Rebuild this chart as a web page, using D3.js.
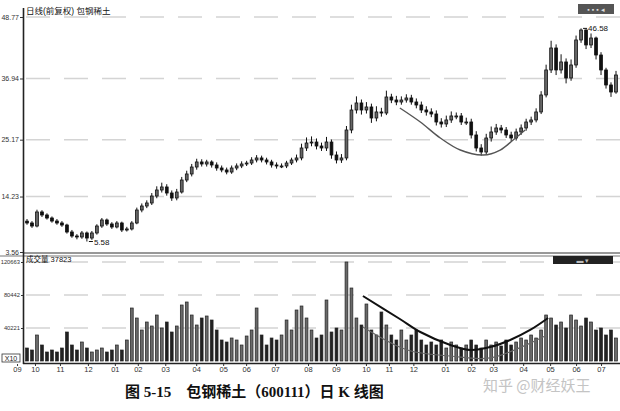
<!DOCTYPE html>
<html><head><meta charset="utf-8">
<script src="https://cdn.jsdelivr.net/npm/d3@7"></script>
<style>body{margin:0;background:#fff}svg{display:block}</style>
</head><body>
<svg id="c" width="620" height="411"></svg>
<script>
const opens=[9.50,9.14,8.56,11.26,10.68,10.10,9.52,9.14,8.75,7.41,
6.64,6.45,7.22,6.25,7.22,8.56,9.72,8.95,8.37,9.14,
7.79,7.99,9.14,11.64,12.41,12.99,14.33,15.49,16.07,14.91,
13.95,15.10,17.41,18.57,19.91,20.88,20.49,20.88,20.30,19.72,
19.34,18.95,19.72,20.11,20.49,20.68,21.26,21.65,21.26,20.88,
20.30,20.11,20.11,20.68,21.26,21.65,23.57,24.53,24.72,23.95,
23.57,24.72,22.22,21.26,21.65,27.03,30.88,32.23,30.88,31.46,
29.34,30.50,30.30,33.38,32.80,32.42,32.80,33.19,32.42,31.84,
30.88,30.50,30.11,28.57,28.19,28.96,29.73,29.73,28.57,28.57,
26.07,23.57,22.80,25.49,26.65,27.42,27.03,26.07,25.49,26.65,
27.42,28.57,28.96,30.50,33.77,38.58,42.81,38.58,40.12,37.04,
39.54,44.35,46.27,43.39,44.73,41.46,38.58,35.69,34.34];
const closes=[9.14,8.56,11.26,10.68,10.10,9.52,9.14,8.75,7.41,6.64,
6.45,7.22,6.25,7.22,8.56,9.72,8.95,8.37,9.14,7.79,
7.99,9.14,11.64,12.41,12.99,14.33,15.49,16.07,14.91,13.95,
15.10,17.41,18.57,19.91,20.88,20.49,20.88,20.30,19.72,19.34,
18.95,19.72,20.11,20.49,20.68,21.26,21.65,21.26,20.88,20.30,
20.11,20.11,20.68,21.26,21.65,23.57,24.53,24.72,23.95,23.57,
24.72,22.22,21.26,21.65,27.03,30.88,32.23,30.88,31.46,29.34,
30.50,30.30,33.38,32.80,32.42,32.80,33.19,32.42,31.84,30.88,
30.50,30.11,28.57,28.19,28.96,29.73,29.73,28.57,28.57,26.07,
23.57,22.80,25.49,26.65,27.42,27.03,26.07,25.49,26.65,27.42,
28.57,28.96,30.50,33.77,38.58,42.81,38.58,40.12,37.04,39.54,
44.35,46.27,43.39,44.73,41.46,38.58,35.69,34.34,37.61];
const highs=[9.9,9.5,11.7,11.6,11.0,10.4,9.9,9.5,9.0,7.8,
7.0,7.6,7.5,7.6,8.9,10.1,10.0,9.3,9.5,9.4,
8.4,9.5,12.1,12.9,13.5,14.9,16.2,16.9,16.6,15.4,
15.7,18.0,19.2,20.5,21.5,21.4,21.3,21.2,20.8,20.2,
19.8,20.2,20.6,21.0,21.1,21.8,22.2,22.1,21.7,21.3,
20.8,20.6,21.1,21.7,22.3,24.4,25.6,25.8,25.4,24.6,
25.7,25.2,22.9,22.4,27.8,31.9,33.5,32.9,32.4,32.1,
31.6,31.3,34.6,34.0,33.6,33.5,33.9,33.8,33.1,32.5,
31.6,31.2,30.8,29.3,29.8,30.6,30.4,30.3,29.4,29.2,
26.8,24.3,26.3,27.7,28.2,28.0,27.6,26.7,27.3,28.1,
29.2,29.6,31.2,34.5,39.6,44.2,43.5,41.6,40.8,40.6,
45.2,46.58,46.4,45.6,45.0,42.0,39.0,36.2,38.4];
const lows=[8.8,8.2,8.3,10.3,9.8,9.2,8.8,8.4,7.1,6.3,
6.0,6.1,5.58,5.9,6.9,8.2,8.6,8.0,8.1,7.4,
7.5,7.7,8.9,11.2,12.0,12.6,13.9,15.0,14.4,13.4,
13.5,14.8,17.0,18.1,19.4,20.0,20.0,19.8,19.2,18.9,
18.5,18.6,19.3,19.7,20.1,20.3,20.8,20.8,20.4,19.8,
19.6,19.7,19.7,20.3,20.8,21.2,23.0,23.9,23.3,23.0,
23.0,21.5,20.6,20.7,21.2,26.4,30.2,30.0,30.2,28.4,
28.7,29.6,29.9,32.2,31.8,31.9,32.3,31.9,31.2,30.3,
29.8,29.5,27.9,27.5,27.6,28.4,29.1,28.0,28.0,25.4,
22.9,22.1,22.3,24.8,26.1,26.4,25.5,24.9,25.0,26.1,
26.9,28.0,28.5,30.1,33.3,38.0,37.6,37.9,36.0,36.5,
39.0,43.8,42.6,42.8,40.6,37.6,35.0,33.4,34.0];
const volumes=[15845,13407,31690,19500,10970,13407,10970,15845,35345,19500,
13407,23157,15845,10970,13407,15845,10970,13407,19500,13407,
25595,64596,52408,37783,47533,42658,56065,40221,47533,35345,
42658,68253,71909,56065,43877,52408,54846,49971,37783,25595,
23157,28033,25595,19500,30470,37783,64596,31690,19500,28033,
25595,31690,49971,37783,62159,67034,52408,37783,28033,31690,
74347,35345,40221,37783,120663,88972,52408,43877,69472,37783,
31690,59721,43877,31690,25595,37783,25595,31690,37783,25595,
19500,23157,19500,25595,15845,23157,19500,15845,19500,25595,
19500,15845,25595,19500,23157,18282,25595,19500,23157,28033,
25595,31690,28033,37783,56065,52408,43877,47533,40221,56065,
49971,42658,52408,47533,37783,40221,31690,37783,28033];
const priceTicks=[48.77,36.94,25.17,14.23,3.56];
const volTicks=[120663,80442,40221];
const monthLabels=["09","10","11","12","01","02","03","04","05","06","07","08","09","10","11","12","01","02","03","04","05","06","07"];
const monthPos=[-2.0,1.6,6.6,12.2,17.6,22.2,27.7,33.9,39.3,43.9,49.7,56.3,61.9,67.9,72.5,77.4,83.8,89.0,93.4,99.4,104.8,110.0,115.0];
const priceArc=[[74.7,31.27],[78.8,28.57],[82.8,25.49],[86.8,23.18],[91.4,22.22],[94.8,23.18],[97.4,25.11],[99.8,27.03]];
const volArc=[[67.3,79235],[74.7,51200],[78.8,35350],[84.8,19500],[88.8,13400],[92.8,17000],[96.8,25600],[100.8,37800],[104.4,52400]];
const volArc2=[[67.3,41400],[76.2,13400],[84.8,6100],[92.8,3700],[104.2,31700]];
const highIdx=111, lowIdx=12;

const svg=d3.select("#c");
const N=closes.length;
const x=d3.scaleLinear().domain([0,N-1]).range([27,616]);
const yP=d3.scaleLinear().domain([3.56,48.77]).range([252,17]);
const yV=d3.scaleLinear().domain([0,120663]).range([361,262]);
const font="'Liberation Sans','Noto Sans CJK SC',sans-serif";
svg.append("rect").attr("width",620).attr("height",411).attr("fill","#fff");

// gridlines
svg.append("g").selectAll("line").data(priceTicks.slice(0,4)).join("line")
  .attr("x1",26).attr("x2",620).attr("y1",d=>yP(d)).attr("y2",d=>yP(d))
  .attr("stroke","#d4d4d4").attr("stroke-width",1.5).attr("stroke-dasharray","24,14");
svg.append("g").selectAll("line").data(volTicks).join("line")
  .attr("x1",26).attr("x2",620).attr("y1",d=>yV(d)).attr("y2",d=>yV(d))
  .attr("stroke","#d4d4d4").attr("stroke-width",1.5).attr("stroke-dasharray","24,14");

// panel borders
svg.append("line").attr("x1",23).attr("x2",620).attr("y1",253).attr("y2",253).attr("stroke","#333").attr("stroke-width",1);
svg.append("line").attr("x1",0).attr("x2",620).attr("y1",256).attr("y2",256).attr("stroke","#777").attr("stroke-width",1);
svg.append("line").attr("x1",23).attr("x2",620).attr("y1",363.5).attr("y2",363.5).attr("stroke","#222").attr("stroke-width",1.5);
svg.append("line").attr("x1",23.5).attr("x2",23.5).attr("y1",8).attr("y2",364).attr("stroke","#222").attr("stroke-width",1.6);

// axes
const ay=svg.append("g").attr("transform","translate(23,0)")
  .call(d3.axisLeft(yP).tickValues(priceTicks).tickFormat(d3.format(".2f")).tickSize(3).tickPadding(1));
const av=svg.append("g").attr("transform","translate(23,0)")
  .call(d3.axisLeft(yV).tickValues(volTicks).tickFormat(d3.format("d")).tickSize(2).tickPadding(1));
const ax=svg.append("g").attr("transform","translate(0,364)")
  .call(d3.axisBottom(x).tickValues(monthPos).tickFormat((d,i)=>monthLabels[i]).tickSize(2).tickPadding(1));
[ay,av,ax].forEach(g=>{g.select(".domain").remove();
  g.selectAll("text").attr("font-size",7.5).attr("font-family",font).attr("fill","#333");
  g.selectAll("line").attr("stroke","#333");});
ay.selectAll("text").attr("font-size",7);
av.selectAll("text").attr("font-size",5.8);

// x10 box
svg.append("rect").attr("x",2).attr("y",354).attr("width",18).attr("height",8).attr("fill","none").attr("stroke","#333").attr("stroke-width",0.8);
svg.append("text").attr("x",11).attr("y",361).attr("text-anchor","middle").attr("font-size",7).attr("font-family",font).attr("fill","#222").text("X10");

// titles
svg.append("text").attr("x",26).attr("y",14).attr("font-size",8.5).attr("font-family",font).attr("fill","#111").text("日线(前复权)   包钢稀土");
svg.append("text").attr("x",26).attr("y",262).attr("font-size",7.5).attr("font-family",font).attr("fill","#111").text("成交量  37823");
svg.append("rect").attr("x",578).attr("y",4).attr("width",36).attr("height",10).attr("fill","#555");
svg.append("text").attr("x",596).attr("y",12).attr("text-anchor","middle").attr("font-size",7).attr("font-family",font).attr("fill","#ddd").text("▪ ▪ ▪ ◂");
svg.append("rect").attr("x",553).attr("y",256).attr("width",60).attr("height",8).attr("fill","#222");
svg.append("text").attr("x",583).attr("y",263).attr("text-anchor","middle").attr("font-size",7).attr("font-family",font).attr("fill","#bbb").text("▬ ▾");

// candles
const bw=2.8;
const cg=svg.append("g");
cg.selectAll("line").data(closes).join("line")
  .attr("x1",(d,i)=>x(i)).attr("x2",(d,i)=>x(i))
  .attr("y1",(d,i)=>yP(highs[i])).attr("y2",(d,i)=>yP(lows[i]))
  .attr("stroke","#111").attr("stroke-width",1);
cg.selectAll("rect").data(closes).join("rect")
  .attr("x",(d,i)=>x(i)-bw/2).attr("width",bw)
  .attr("y",(d,i)=>yP(Math.max(d,opens[i])))
  .attr("height",(d,i)=>Math.max(1,Math.abs(yP(d)-yP(opens[i]))))
  .attr("fill",(d,i)=>d>=opens[i]?"#666":"#111").attr("stroke","#111").attr("stroke-width",0.8);

// volume bars
svg.append("g").selectAll("rect").data(volumes).join("rect")
  .attr("x",(d,i)=>x(i)-bw/2).attr("width",bw)
  .attr("y",d=>yV(d)).attr("height",d=>yV(0)-yV(d))
  .attr("fill",(d,i)=>closes[i]>=opens[i]?"#6a6a6a":"#222").attr("stroke","#222").attr("stroke-width",0.7);

// annotations
svg.append("line").attr("x1",x(highIdx)+2).attr("x2",x(highIdx)+6).attr("y1",yP(highs[highIdx])).attr("y2",yP(highs[highIdx])).attr("stroke","#111");
svg.append("text").attr("x",x(highIdx)+7).attr("y",yP(highs[highIdx])+3).attr("font-size",8).attr("font-family",font).attr("fill","#111").text(d3.format(".2f")(highs[highIdx]));
svg.append("line").attr("x1",x(lowIdx)+2).attr("x2",x(lowIdx)+6).attr("y1",yP(lows[lowIdx])).attr("y2",yP(lows[lowIdx])).attr("stroke","#111");
svg.append("text").attr("x",x(lowIdx)+7).attr("y",yP(lows[lowIdx])+3).attr("font-size",8).attr("font-family",font).attr("fill","#111").text(d3.format(".2f")(lows[lowIdx]));

const lp=d3.line().x(d=>x(d[0])).y(d=>yP(d[1])).curve(d3.curveCatmullRom);
svg.append("path").attr("d",lp(priceArc)).attr("fill","none").attr("stroke","#555").attr("stroke-width",1.4);
const lv=d3.line().x(d=>x(d[0])).y(d=>yV(d[1])).curve(d3.curveCatmullRom);
svg.append("path").attr("d",lv(volArc)).attr("fill","none").attr("stroke","#111").attr("stroke-width",2);
svg.append("path").attr("d",lv(volArc2)).attr("fill","none").attr("stroke","#666").attr("stroke-width",1.2);

// caption
svg.append("text").attr("x",125).attr("y",397).attr("font-size",15).attr("font-weight","bold")
  .attr("font-family","'Liberation Serif','Noto Sans CJK SC',serif").attr("fill","#111")
  .text("图 5-15　包钢稀土（600111）日 K 线图");
svg.append("text").attr("x",483).attr("y",391).attr("font-size",15)
  .attr("font-family","'Noto Sans CJK SC',sans-serif").attr("fill","#c4c4c4")
  .text("知乎 @财经妖王");
</script>
</body></html>
